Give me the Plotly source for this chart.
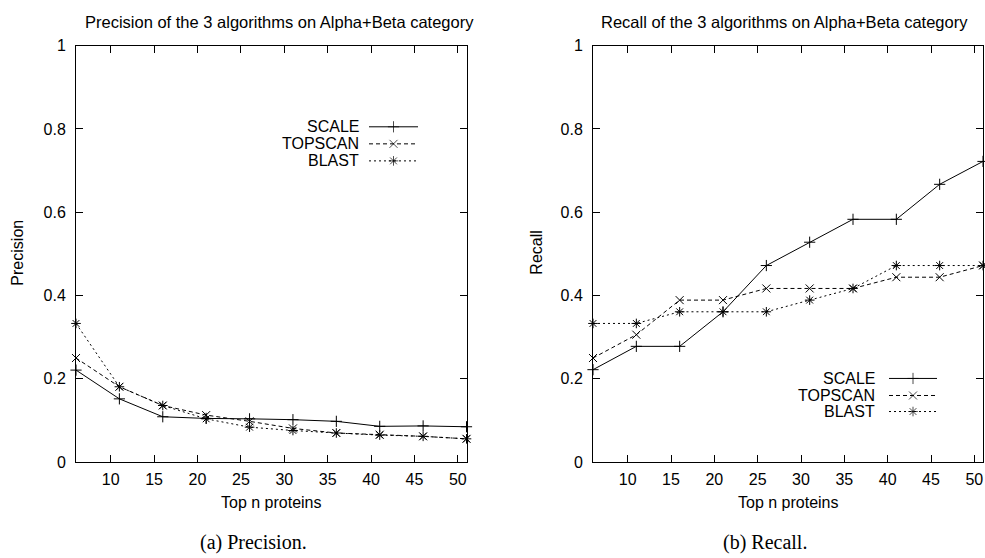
import plotly.graph_objects as go

# ---------------- data ----------------
top_n = [6, 11, 16, 21, 26, 31, 36, 41, 46, 51]
x_ticks = [10, 15, 20, 25, 30, 35, 40, 45, 50]
series_names = ["SCALE", "TOPSCAN", "BLAST"]

precision_scale = [0.221, 0.152, 0.109, 0.105, 0.104, 0.102, 0.098, 0.086, 0.087, 0.085]
precision_topscan = [0.250, 0.181, 0.136, 0.113, 0.098, 0.081, 0.070, 0.066, 0.062, 0.056]
precision_blast = [0.333, 0.181, 0.136, 0.104, 0.084, 0.076, 0.070, 0.065, 0.062, 0.056]

recall_scale = [0.222, 0.278, 0.278, 0.361, 0.472, 0.528, 0.583, 0.583, 0.667, 0.722]
recall_topscan = [0.250, 0.306, 0.389, 0.389, 0.417, 0.417, 0.417, 0.444, 0.444, 0.472]
recall_blast = [0.333, 0.333, 0.361, 0.361, 0.361, 0.389, 0.417, 0.472, 0.472, 0.472]

titles = ["Precision of the 3 algorithms on Alpha+Beta category",
          "Recall of the 3 algorithms on Alpha+Beta category"]
y_titles = ["Precision", "Recall"]
x_title = "Top n proteins"
captions = ["(a) Precision.", "(b) Recall."]

# ---------------- styles ----------------
W = 985
FIG_H = 576
# page rendering maps figure pixel y to screen as: screen = V_OFF + V_SCALE * y
V_OFF, V_SCALE = 7.5, 0.968
SANS = "Liberation Sans, Arial, sans-serif"
SERIF = "Liberation Serif, Times New Roman, serif"
FS = 16
dashes = ["solid", "4px,3px", "2px,3px"]
symbols = ["cross-thin-open", "x-thin-open", "asterisk-open"]


def px(x):
    return x / W


def py(y):
    return 1 - ((y - V_OFF) / V_SCALE) / FIG_H


plots = [
    dict(x0=76, x1=466.5, xa="x", ya="y", series=[precision_scale, precision_topscan, precision_blast],
         title_x=279.5, ytitle_x=17.5, cap_x=253,
         leg_text_x=361, leg_line=(369, 418), leg_rows=[126, 143, 160]),
    dict(x0=593, x1=983, xa="x2", ya="y2", series=[recall_scale, recall_topscan, recall_blast],
         title_x=784.5, ytitle_x=536.5, cap_x=765,
         leg_text_x=877, leg_line=(889, 937), leg_rows=[377, 394, 410]),
]
top_px, bottom_px = 45, 460.5

fig = go.Figure()
annotations = []

for i, p in enumerate(plots):
    for j, vals in enumerate(p["series"]):
        fig.add_trace(go.Scatter(
            x=top_n, y=vals, name=series_names[j], mode="lines+markers",
            xaxis=p["xa"], yaxis=p["ya"], cliponaxis=False, showlegend=False,
            line=dict(color="black", width=1, dash=dashes[j]),
            marker=dict(symbol=symbols[j], size=8, color="black",
                        line=dict(color="black", width=1)),
        ))
    # custom gnuplot-style key (text right, sample left->right)
    lx0, lx1 = p["leg_line"]
    for j, ry in enumerate(p["leg_rows"]):
        fig.add_trace(go.Scatter(
            x=[lx0, (lx0 + lx1) / 2, lx1], y=[ry, ry, ry], mode="lines+markers",
            xaxis="x3", yaxis="y3", showlegend=False, hoverinfo="skip", cliponaxis=False,
            line=dict(color="black", width=1, dash=dashes[j]),
            marker=dict(symbol=symbols[j], size=[0, 8, 0], color="black",
                        line=dict(color="black", width=1)),
        ))
        annotations.append(dict(
            text=series_names[j], x=px(p["leg_text_x"]), y=py(ry), xref="paper", yref="paper",
            xanchor="right", yanchor="middle", showarrow=False,
            font=dict(family=SANS, size=FS, color="black")))
    cx = (p["x0"] + p["x1"]) / 2
    annotations += [
        dict(text=titles[i], x=px(p["title_x"]), y=py(21), xref="paper", yref="paper",
             xanchor="center", yanchor="middle", showarrow=False,
             font=dict(family=SANS, size=16.5, color="black")),
        dict(text=x_title, x=px(cx), y=py(501), xref="paper", yref="paper",
             xanchor="center", yanchor="middle", showarrow=False,
             font=dict(family=SANS, size=FS, color="black")),
        dict(text=y_titles[i], x=px(p["ytitle_x"]), y=py(252), xref="paper", yref="paper",
             xanchor="center", yanchor="middle", showarrow=False, textangle=-90,
             font=dict(family=SANS, size=FS, color="black")),
        dict(text=captions[i], x=px(p["cap_x"]), y=py(541), xref="paper", yref="paper",
             xanchor="center", yanchor="middle", showarrow=False,
             font=dict(family=SERIF, size=20, color="black")),
    ]

axis_common = dict(showline=True, linecolor="black", linewidth=1, mirror="ticks",
                   ticks="inside", ticklen=7, tickwidth=1, tickcolor="black",
                   showgrid=False, zeroline=False,
                   tickfont=dict(family=SANS, size=FS, color="black"))

layout = dict(
    width=W, height=FIG_H, margin=dict(l=0, r=0, t=0, b=0),
    paper_bgcolor="white", plot_bgcolor="rgba(0,0,0,0)", showlegend=False,
    annotations=annotations,
    xaxis3=dict(domain=[0, 1], range=[0, W], visible=False, anchor="y3", fixedrange=True),
    yaxis3=dict(domain=[0, 1], range=[V_OFF + V_SCALE * FIG_H, V_OFF], visible=False,
                anchor="x3", fixedrange=True),
)
for i, p in enumerate(plots):
    sfx = "" if i == 0 else "2"
    layout["xaxis" + sfx] = dict(domain=[px(p["x0"]), px(p["x1"])], range=[6, 51],
                                 tickvals=x_ticks, anchor="y" + sfx,
                                 ticklabelstandoff=3, **axis_common)
    layout["yaxis" + sfx] = dict(domain=[py(bottom_px), py(top_px)], range=[0, 1],
                                 dtick=0.2, tick0=0, anchor="x" + sfx,
                                 ticklabelstandoff=6, **axis_common)

fig.update_layout(**layout)
fig.write_html("out.html")
